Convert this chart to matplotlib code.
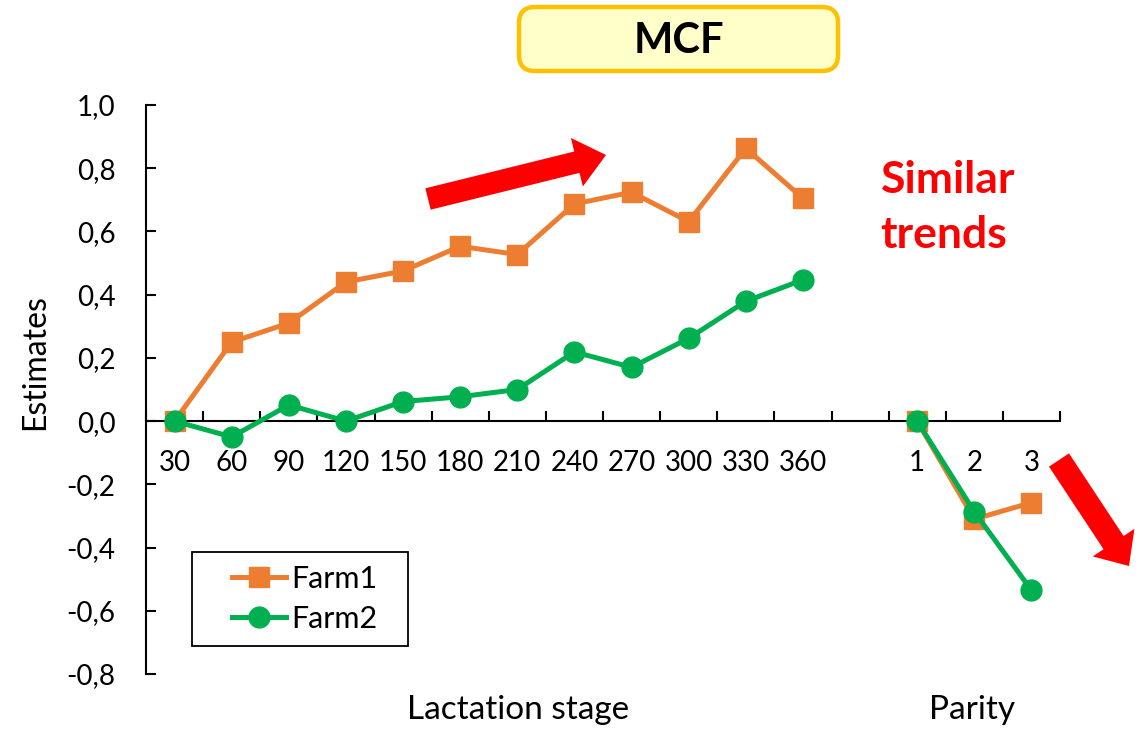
import numpy as np
import matplotlib.pyplot as plt
from matplotlib.patches import FancyBboxPatch, FancyArrow, Rectangle
from matplotlib.ticker import FixedLocator, FuncFormatter

plt.rcParams['font.family'] = ['Lato', 'DejaVu Sans']

# estimates per lactation stage (days) and per parity
stages = ['30', '60', '90', '120', '150', '180', '210', '240', '270', '300', '330', '360']
parities = ['1', '2', '3']
farm1_stage = [0.0, 0.25, 0.31, 0.44, 0.475, 0.553, 0.527, 0.687, 0.724, 0.631, 0.863, 0.705]
farm2_stage = [0.0, -0.05, 0.051, 0.0, 0.062, 0.077, 0.10, 0.219, 0.17, 0.262, 0.379, 0.447]
farm1_parity = [0.0, -0.31, -0.258]
farm2_parity = [0.0, -0.287, -0.535]

orange = '#ED7D31'
green = '#00B050'

W, H = 1139, 731
fig = plt.figure(figsize=(W / 100, H / 100), dpi=100)

# main axes placed in pixel terms: x from 146 to 1060, y from 105 (1.0) to 674 (-0.8)
ax = fig.add_axes([146 / W, 1 - 674 / H, (1060 - 146) / W, (674 - 105) / H])

n_cat = len(stages) + 1 + len(parities)
x_stage = np.arange(len(stages))
x_par = np.arange(len(stages) + 1, n_cat)

style = dict(lw=3.6, ms=15, clip_on=False)
l1, = ax.plot(x_stage, farm1_stage, color=orange, marker='s', zorder=3, **style)
ax.plot(x_par, farm1_parity, color=orange, marker='s', zorder=3, **style)
l2, = ax.plot(x_stage, farm2_stage, color=green, marker='o', zorder=4, **style)
ax.plot(x_par, farm2_parity, color=green, marker='o', zorder=4, **style)

ax.set_xlim(-0.5, n_cat - 0.5)
ax.set_ylim(-0.8, 1.0)

for s in ['top', 'right']:
    ax.spines[s].set_visible(False)
ax.spines['bottom'].set_position(('data', 0))
for s in ['left', 'bottom']:
    ax.spines[s].set_linewidth(1.5)

# category labels at centres, tick marks at boundaries
labels = stages + [''] + parities
ax.xaxis.set_major_locator(FixedLocator(np.arange(n_cat)))
ax.set_xticklabels(labels)
ax.xaxis.set_minor_locator(FixedLocator(np.arange(n_cat + 1) - 0.5))
ax.tick_params(axis='x', which='major', length=0, pad=21, labelsize=20)
ax.tick_params(axis='x', which='minor', direction='in', length=7, width=1.5)


def comma_fmt(v, pos):
    v = round(v, 1)
    if v == 0:
        v = 0.0
    return f'{v:.1f}'.replace('.', ',')


ax.set_yticks(np.round(np.arange(-0.8, 1.01, 0.2), 1))
ax.yaxis.set_major_formatter(FuncFormatter(comma_fmt))
ax.tick_params(axis='y', direction='in', length=7, width=1.5, pad=22, labelsize=20)

fig.text(35 / W, 1 - 362 / H, 'Estimates', rotation=90, ha='center', va='center', fontsize=23)
fig.text(518 / W, 1 - 710 / H, 'Lactation stage', ha='center', va='center', fontsize=24)
fig.text(972 / W, 1 - 710 / H, 'Parity', ha='center', va='center', fontsize=24)

leg = fig.legend([l1, l2], ['Farm1', 'Farm2'], loc='center left',
                 bbox_to_anchor=(232 / W, 1 - 599 / H), bbox_transform=fig.transFigure,
                 fontsize=22, handlelength=1.77, handletextpad=0.16, labelspacing=0.4,
                 borderaxespad=0, borderpad=0, frameon=False)

# overlay in pixel units for the legend frame, title box and arrows
ov = fig.add_axes([0, 0, 1, 1], zorder=10)
ov.set_xlim(0, W)
ov.set_ylim(H, 0)
ov.axis('off')

ov.add_patch(Rectangle((192, 552), 216, 94, fill=False, edgecolor='black', lw=1.3))

ov.add_patch(FancyBboxPatch((519, 7), 319, 64, boxstyle='round,pad=0,rounding_size=16',
                            facecolor='#FFFFC9', edgecolor='#FFC000', lw=3.2))
ov.text(679, 41, 'MCF', ha='center', va='center', fontsize=30, fontweight='bold')

ov.text(948, 180, 'Similar', ha='center', va='center', fontsize=32, fontweight='bold', color='#FF0000')
ov.text(944, 235, 'trends', ha='center', va='center', fontsize=32, fontweight='bold', color='#FF0000')

ov.add_patch(FancyArrow(428, 199, 606 - 428, 155 - 199, width=22, head_width=50,
                        head_length=30, length_includes_head=True, color='#FF0000', lw=0))
ov.add_patch(FancyArrow(1059, 460, 1129 - 1059, 566 - 460, width=24, head_width=50,
                        head_length=28, length_includes_head=True, color='#FF0000', lw=0))

fig.savefig('out.png', dpi=100)
